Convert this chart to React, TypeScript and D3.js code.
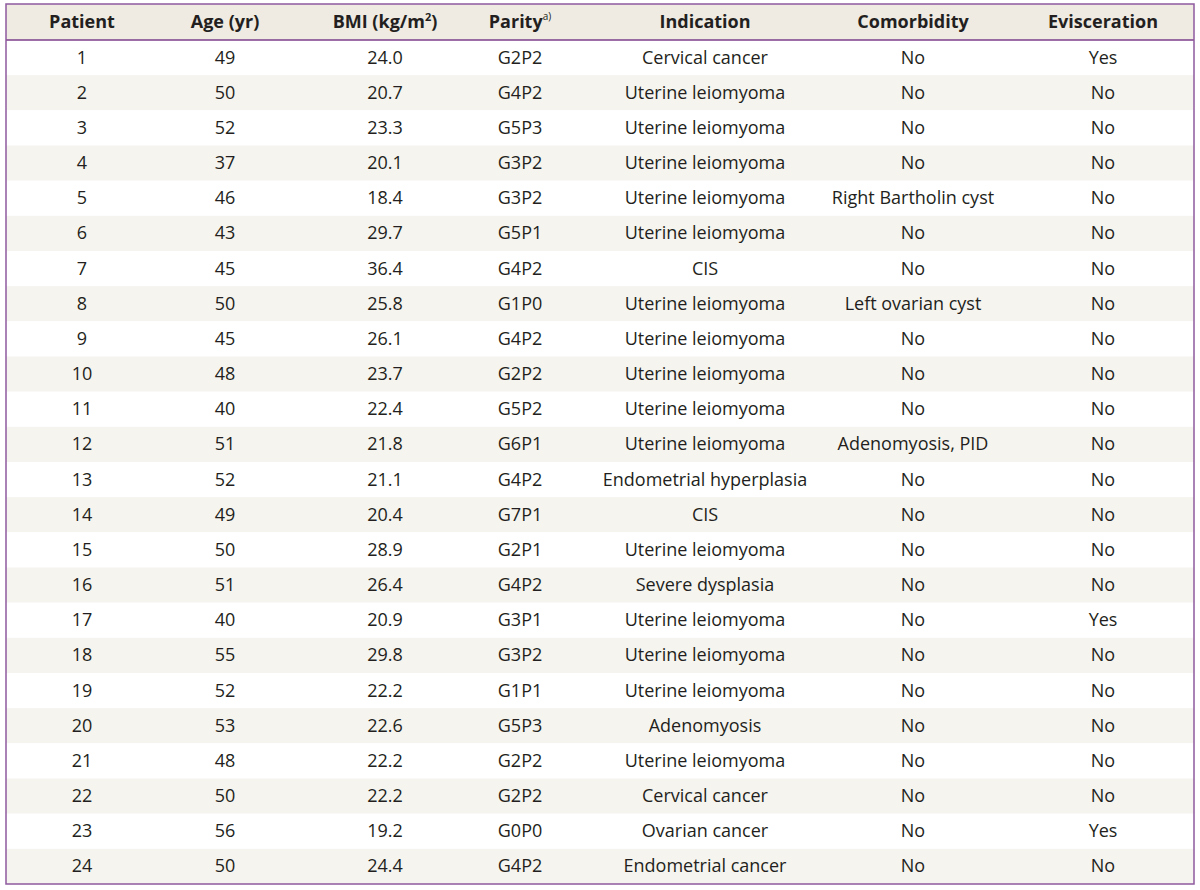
import React from "react";
import * as d3 from "d3";

const headers = ["Patient", "Age (yr)", "BMI (kg/m2)", "Parity", "Indication", "Comorbidity", "Evisceration"];
const patients = d3.range(1, 25).map(String);
const ages = ["49","50","52","37","46","43","45","50","45","48","40","51","52","49","50","51","40","55","52","53","48","50","56","50"];
const bmis = ["24.0","20.7","23.3","20.1","18.4","29.7","36.4","25.8","26.1","23.7","22.4","21.8","21.1","20.4","28.9","26.4","20.9","29.8","22.2","22.6","22.2","22.2","19.2","24.4"];
const parities = ["G2P2","G4P2","G5P3","G3P2","G3P2","G5P1","G4P2","G1P0","G4P2","G2P2","G5P2","G6P1","G4P2","G7P1","G2P1","G4P2","G3P1","G3P2","G1P1","G5P3","G2P2","G2P2","G0P0","G4P2"];
const indications = ["Cervical cancer","Uterine leiomyoma","Uterine leiomyoma","Uterine leiomyoma","Uterine leiomyoma","Uterine leiomyoma","CIS","Uterine leiomyoma","Uterine leiomyoma","Uterine leiomyoma","Uterine leiomyoma","Uterine leiomyoma","Endometrial hyperplasia","CIS","Uterine leiomyoma","Severe dysplasia","Uterine leiomyoma","Uterine leiomyoma","Uterine leiomyoma","Adenomyosis","Uterine leiomyoma","Cervical cancer","Ovarian cancer","Endometrial cancer"];
const comorbidities = ["No","No","No","No","Right Bartholin cyst","No","No","Left ovarian cyst","No","No","No","Adenomyosis, PID","No","No","No","No","No","No","No","No","No","No","No","No"];
const eviscerations = ["Yes","No","No","No","No","No","No","No","No","No","No","No","No","No","No","No","Yes","No","No","No","No","No","Yes","No"];

const columns = [patients, ages, bmis, parities, indications, comorbidities, eviscerations];
const colCenters = [82, 225, 385, 520, 705, 913, 1103];

export default function App() {
  const W = 1200, H = 890;
  const left = 6, right = 1194, top = 4, headerBottom = 40, bottom = 884;
  const y = d3.scaleBand<number>().domain(d3.range(24)).range([headerBottom, bottom]);
  const font = "'Open Sans', 'Noto Sans', sans-serif";
  return (
    <svg width={W} height={H} style={{ position: "absolute", left: 0, top: 0 }} fontFamily={font}>
      <rect x={0} y={0} width={W} height={H} fill="#fff" />
      <rect x={left} y={top} width={right - left} height={headerBottom - top} fill="#efebe3" />
      {d3.range(24).map((i) => (
        <rect key={i} x={left} y={y(i)} width={right - left} height={y.bandwidth()} fill={i % 2 === 1 ? "#f6f4ef" : "#ffffff"} />
      ))}
      <g fontWeight="bold" fontSize={18} fill="#231f20" textAnchor="middle">
        {headers.map((h, j) => {
          const cy = (top + headerBottom) / 2 + 6;
          if (j === 2) {
            return (
              <text key={j} x={colCenters[j]} y={cy}>
                BMI (kg/m<tspan fontSize={11} dy={-7}>2</tspan><tspan dy={7}>)</tspan>
              </text>
            );
          }
          if (j === 3) {
            return (
              <text key={j} x={colCenters[j]} y={cy}>
                Parity<tspan fontSize={10} dy={-8} fontWeight="normal">a)</tspan>
              </text>
            );
          }
          return <text key={j} x={colCenters[j]} y={cy}>{h}</text>;
        })}
      </g>
      <g fontSize={18} fill="#231f20" textAnchor="middle">
        {columns.map((col, j) =>
          col.map((v, i) => (
            <text key={j + "-" + i} x={colCenters[j]} y={(y(i) as number) + y.bandwidth() / 2 + 6}>{v}</text>
          ))
        )}
      </g>
      <line x1={left} x2={right} y1={headerBottom} y2={headerBottom} stroke="#7b3f8c" strokeWidth={1.5} />
      <rect x={left} y={top} width={right - left} height={bottom - top} fill="none" stroke="#8e5a9e" strokeWidth={1.5} />
    </svg>
  );
}
